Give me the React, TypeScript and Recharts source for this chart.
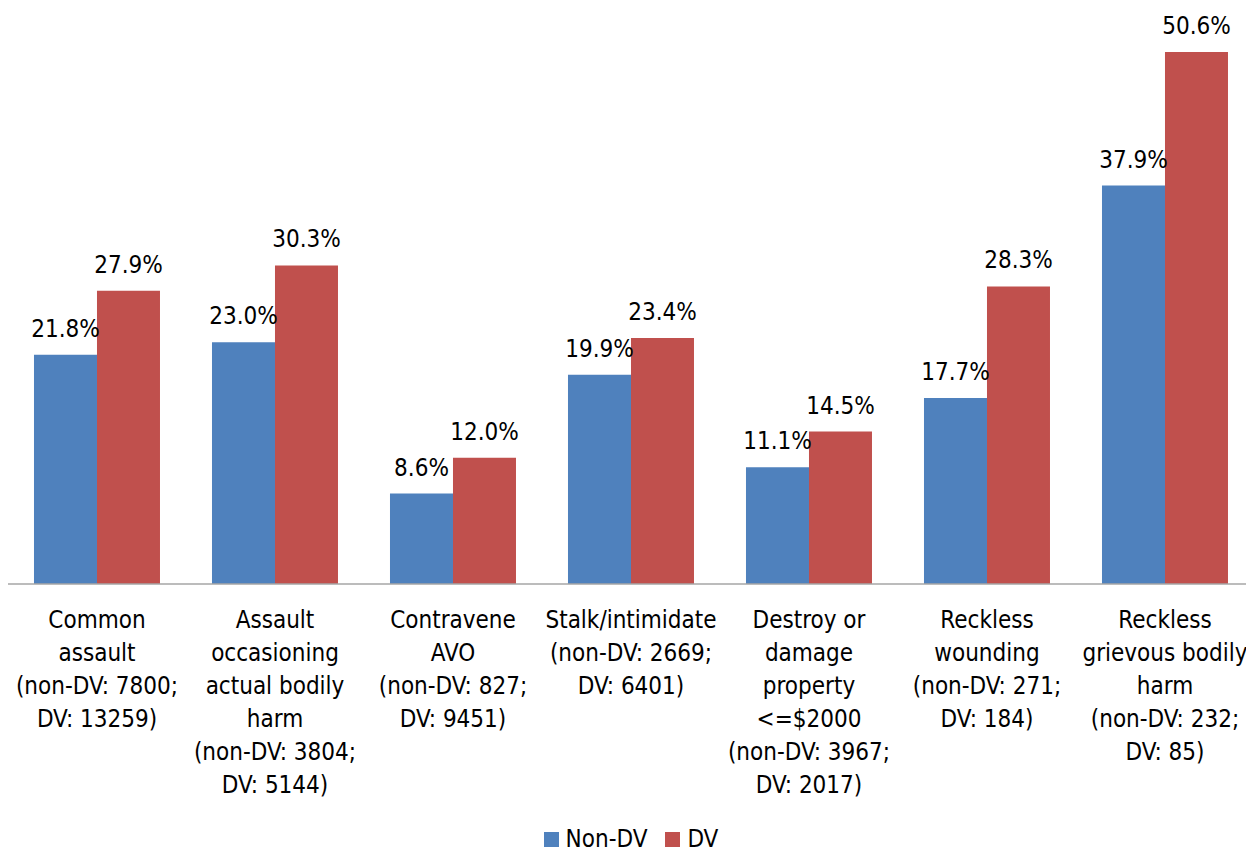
import React from 'react';
import { BarChart, Bar, XAxis, YAxis, Legend, LabelList } from 'recharts';

const categories = [
  'Common assault',
  'Assault occasioning actual bodily harm',
  'Contravene AVO',
  'Stalk/intimidate',
  'Destroy or damage property <=$2000',
  'Reckless wounding',
  'Reckless grievous bodily harm',
];

const tickLines: string[][] = [
  ['Common', 'assault', '(non-DV: 7800;', 'DV: 13259)'],
  ['Assault', 'occasioning', 'actual bodily', 'harm', '(non-DV: 3804;', 'DV: 5144)'],
  ['Contravene', 'AVO', '(non-DV: 827;', 'DV: 9451)'],
  ['Stalk/intimidate', '(non-DV: 2669;', 'DV: 6401)'],
  ['Destroy or', 'damage', 'property', '<=$2000', '(non-DV: 3967;', 'DV: 2017)'],
  ['Reckless', 'wounding', '(non-DV: 271;', 'DV: 184)'],
  ['Reckless', 'grievous bodily', 'harm', '(non-DV: 232;', 'DV: 85)'],
];

const nonDV = [21.8, 23.0, 8.6, 19.9, 11.1, 17.7, 37.9];
const dv = [27.9, 30.3, 12.0, 23.4, 14.5, 28.3, 50.6];

const seriesNames = ['Non-DV', 'DV'];
const colors = ['#4F81BD', '#C0504D'];

const data = categories.map((name, i) => ({ name, idx: i, nonDV: nonDV[i], dv: dv[i] }));

const FONT = '"DejaVu Sans Condensed", "Liberation Sans", sans-serif';
const FS = 24;

const CustomTick = (props: any) => {
  const { x, y, payload } = props;
  const lines = tickLines[payload.index] || [String(payload.value)];
  return (
    <text x={x} y={y} textAnchor="middle" fontFamily={FONT} fontSize={FS} fill="#000">
      {lines.map((l, i) => (
        <tspan key={i} x={x} y={y + 36 + i * 33}>{l}</tspan>
      ))}
    </text>
  );
};

const fmt = (v: any) => `${Number(v).toFixed(1)}%`;

const LegendContent = () => (
  <div style={{ position: 'relative', top: 1, display: 'flex', justifyContent: 'center', alignItems: 'center', height: 28, fontFamily: FONT, fontSize: FS, color: '#000', lineHeight: '28px' }}>
    {seriesNames.map((n, i) => (
      <div key={n} style={{ display: 'flex', alignItems: 'center', marginRight: i === 0 ? 18 : 0 }}>
        <span style={{ display: 'inline-block', width: 15, height: 15, background: colors[i], marginRight: 7 }} />
        <span>{n}</span>
      </div>
    ))}
  </div>
);

export default function App() {
  return (
    <BarChart
      width={1246}
      height={844}
      data={data}
      margin={{ top: 44, right: 0, bottom: 0, left: 0 }}
      barCategoryGap="14.6%"
      barGap={0}
    >
      <XAxis
        dataKey="name"
        interval={0}
        tickLine={false}
        axisLine={{ stroke: '#A6A6A6', strokeWidth: 1.5 }}
        tick={<CustomTick />}
        height={240}
      />
      <YAxis hide domain={[0, 'dataMax']} />
      <Legend verticalAlign="bottom" content={<LegendContent />} />
      <Bar dataKey="nonDV" name={seriesNames[0]} fill={colors[0]} isAnimationActive={false}>
        <LabelList dataKey="nonDV" position="top" offset={18} formatter={fmt} fontFamily={FONT} fontSize={FS} fill="#000" />
      </Bar>
      <Bar dataKey="dv" name={seriesNames[1]} fill={colors[1]} isAnimationActive={false}>
        <LabelList dataKey="dv" position="top" offset={18} formatter={fmt} fontFamily={FONT} fontSize={FS} fill="#000" />
      </Bar>
    </BarChart>
  );
}
